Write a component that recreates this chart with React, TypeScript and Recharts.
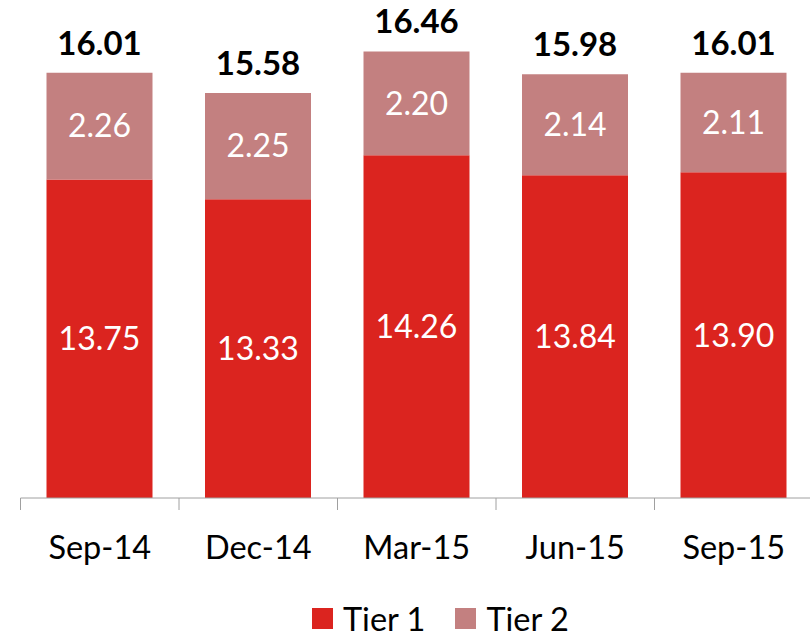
import { Bar, BarChart, LabelList, Legend, XAxis, YAxis } from 'recharts';

const quarters = ['Sep-14', 'Dec-14', 'Mar-15', 'Jun-15', 'Sep-15'];
const tier1 = [13.75, 13.33, 14.26, 13.84, 13.9];
const tier2 = [2.26, 2.25, 2.2, 2.14, 2.11];
const totals = [16.01, 15.58, 16.46, 15.98, 16.01];

const data = quarters.map((q, i) => ({
  quarter: q,
  tier1: tier1[i],
  tier2: tier2[i],
  total: totals[i]
}));

const TIER1_COLOR = '#DB241F';
const TIER2_COLOR = '#C38080';
const FONT = 'Lato, "Open Sans", sans-serif';

const BAND = 158.5;

const QuarterTick = (props: any) => {
  const { x, y, payload } = props;
  return (
    <g>
      <line
        x1={x - BAND / 2}
        x2={x - BAND / 2}
        y1={y}
        y2={y + 12}
        stroke="#a0a0a0"
        strokeWidth={1}
      />
      <text
        x={x}
        y={y + 61}
        textAnchor="middle"
        fill="#000"
        fontSize={32.5}
        fontFamily={FONT}
      >
        {payload.value}
      </text>
    </g>
  );
};

const renderLegend = () => (
  <div
    style={{
      display: 'flex',
      alignItems: 'center',
      height: 40,
      paddingLeft: 312,
      fontFamily: FONT,
      fontSize: 32.5,
      color: '#000'
    }}
  >
    {[
      { name: 'Tier 1', color: TIER1_COLOR },
      { name: 'Tier 2', color: TIER2_COLOR }
    ].map((s) => (
      <span
        key={s.name}
        style={{ display: 'flex', alignItems: 'center', marginRight: 30 }}
      >
        <span
          style={{
            width: 21,
            height: 21,
            background: s.color,
            marginRight: 10
          }}
        />
        {s.name}
      </span>
    ))}
  </div>
);

const fmt = (v: any) => Number(v).toFixed(2);

export default function App() {
  return (
    <div
      style={{
        position: 'absolute',
        left: 0,
        top: 0,
        width: 810,
        height: 638,
        overflow: 'hidden',
        background: '#fff'
      }}
    >
      <BarChart
        width={830}
        height={638}
        data={data}
        margin={{ top: 26, right: 17, left: 20.5, bottom: 0 }}
      >
        <XAxis
          dataKey="quarter"
          height={100}
          tickSize={0}
          tickMargin={0}
          tickLine={false}
          axisLine={{ stroke: '#a0a0a0', strokeWidth: 1 }}
          tick={<QuarterTick />}
          interval={0}
        />
        <YAxis hide domain={[7, 17]} allowDataOverflow />
        <Legend
          verticalAlign="bottom"
          content={renderLegend}
          wrapperStyle={{ left: 0, width: 830 }}
        />
        <Bar
          dataKey="tier1"
          name="Tier 1"
          stackId="a"
          fill={TIER1_COLOR}
          barSize={106}
          isAnimationActive={false}
        >
          <LabelList
            dataKey="tier1"
            position="center"
            formatter={fmt}
            fill="#fff"
            fontSize={32}
            fontFamily={FONT}
          />
        </Bar>
        <Bar
          dataKey="tier2"
          name="Tier 2"
          stackId="a"
          fill={TIER2_COLOR}
          barSize={106}
          isAnimationActive={false}
        >
          <LabelList
            dataKey="tier2"
            position="center"
            formatter={fmt}
            fill="#fff"
            fontSize={32}
            fontFamily={FONT}
          />
          <LabelList
            dataKey="total"
            position="top"
            offset={18}
            formatter={fmt}
            fill="#000"
            fontSize={33}
            fontWeight="bold"
            fontFamily={FONT}
          />
        </Bar>
      </BarChart>
    </div>
  );
}
